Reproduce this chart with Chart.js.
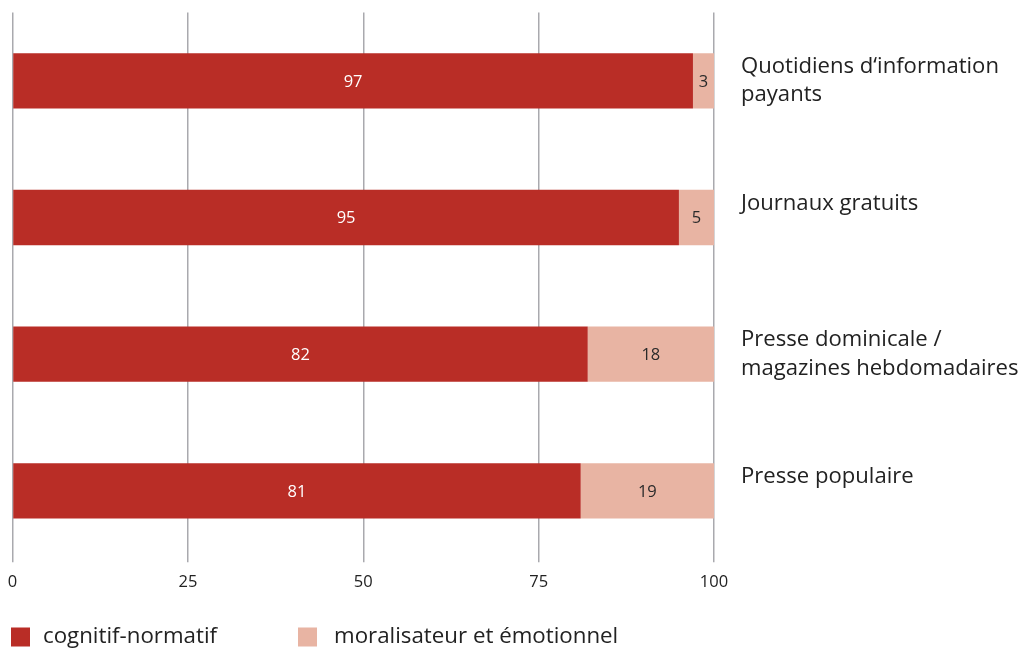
<!DOCTYPE html>
<html><head><meta charset="utf-8">
<script src="https://cdn.jsdelivr.net/npm/chart.js@4.4.0/dist/chart.umd.min.js"></script>
<style>html,body{margin:0;padding:0;background:#fff}#wrap{width:1021px;height:650px;position:relative}</style>
</head><body><div id="wrap"><canvas id="c"></canvas></div>
<script>
const categories = [["Quotidiens d‘information","payants"],["Journaux gratuits",""],["Presse dominicale /","magazines hebdomadaires"],["Presse populaire",""]];
const cognitifNormatif = [97,95,82,81];
const moralisateurEmotionnel = [3,5,18,19];
const seriesNames = ["cognitif-normatif","moralisateur et émotionnel"];
const seriesColors = ["#b92d26","#e8b4a3"];
const labelColors = ["#ffffff","#2a2a2a"];
const xTickValues = [0,25,50,75,100];

const FONT = "'Open Sans', 'Noto Sans', sans-serif";
const TEXT = "#222222";

const valueLabels = {
  id:'valueLabels',
  afterDatasetsDraw(chart){
    const ctx = chart.ctx;
    ctx.save();
    ctx.font = "16.5px " + FONT;
    ctx.textAlign='center'; ctx.textBaseline='middle';
    chart.data.datasets.forEach((ds,di)=>{
      const meta = chart.getDatasetMeta(di);
      meta.data.forEach((el,i)=>{
        const p = el.getCenterPoint();
        ctx.fillStyle = labelColors[di];
        ctx.fillText(String(ds.data[i]), p.x, p.y+1);
      });
    });
    ctx.restore();
  }
};

const bottomLegend = {
  id:'bottomLegend',
  afterDraw(chart){
    const ctx = chart.ctx;
    const xs = [11, 298];
    const y = 637;
    ctx.save();
    ctx.font = "22.3px " + FONT;
    ctx.textBaseline='middle'; ctx.textAlign='left';
    chart.data.datasets.forEach((ds,di)=>{
      ctx.fillStyle = ds.backgroundColor;
      ctx.fillRect(xs[di], y-9.5, 19, 19);
      ctx.fillStyle = TEXT;
      ctx.fillText(ds.label, xs[di] + 32 + (di===1?4:0), y);
    });
    ctx.restore();
  }
};

new Chart(document.getElementById('c'), {
  type:'bar',
  data:{
    labels: categories,
    datasets:[
      {label: seriesNames[0], data: cognitifNormatif, backgroundColor: seriesColors[0], borderWidth:0, barPercentage:0.405, categoryPercentage:1},
      {label: seriesNames[1], data: moralisateurEmotionnel, backgroundColor: seriesColors[1], borderWidth:0, barPercentage:0.405, categoryPercentage:1}
    ]
  },
  options:{
    indexAxis:'y',
    responsive:true, maintainAspectRatio:false, animation:false,
    layout:{padding:{left:12.5, top:12.5, right:0, bottom:48}},
    plugins:{legend:{display:false}, tooltip:{enabled:false}},
    scales:{
      x:{
        stacked:true, min:0, max:100,
        afterBuildTicks(scale){ scale.ticks = xTickValues.map(v=>({value:v})); },
        afterFit(scale){ scale.paddingLeft = 0; scale.paddingRight = 0; },
        grid:{color:'#a9a9ae', lineWidth:1.5, drawTicks:true, tickLength:3},
        border:{display:false},
        ticks:{color:TEXT, font:{family:FONT, size:16.5}, padding:10, maxRotation:0}
      },
      y:{
        stacked:true, position:'right',
        grid:{display:false, drawTicks:false},
        border:{display:false},
        afterFit(scale){ scale.width = 307; scale.paddingTop = 0; scale.paddingBottom = 0; },
        ticks:{color:TEXT, font:{family:FONT, size:22.1, lineHeight:1.27}, padding:27, crossAlign:'near'}
      }
    }
  },
  plugins:[valueLabels, bottomLegend]
});
</script></body></html>
